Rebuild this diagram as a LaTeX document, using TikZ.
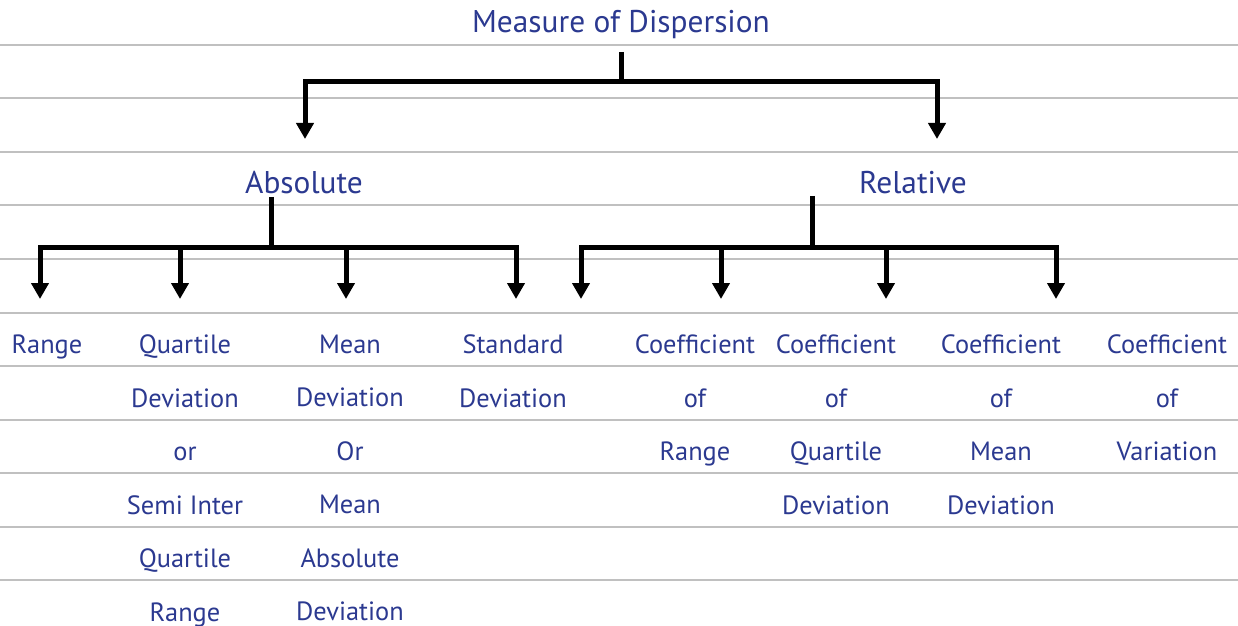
\documentclass[tikz,border=0pt]{standalone}
\usepackage{fontspec}
\setmainfont{PT Sans}
\usetikzlibrary{arrows.meta,positioning}
\definecolor{InkBlue}{RGB}{43,57,144}
\definecolor{RuleGray}{RGB}{192,192,192}

\begin{document}
\begin{tikzpicture}[
    x=0.5pt, y=-0.5pt,
    head/.style={font=\fontsize{15.7}{18}\selectfont, text=InkBlue,
                 anchor=base, inner sep=0pt},
    leaf/.style={font=\fontsize{13.2}{26.75}\selectfont, text=InkBlue,
                 anchor=north, align=center, inner sep=0pt},
    fork/.style={line width=2.5pt, black},
    branch/.style={fork, -{Triangle[length=8pt,width=8.5pt]}},
    rule/.style={RuleGray, line width=1pt},
]
\useasboundingbox (0,0) rectangle (1238,626);

% ── Ruled background ──
\draw[rule] (0,45) -- (1238,45)   (0,98.5) -- (1238,98.5)
            (0,152) -- (1238,152) (0,205.5) -- (1238,205.5)
            (0,259) -- (1238,259) (0,312.5) -- (1238,312.5)
            (0,366) -- (1238,366) (0,419.5) -- (1238,419.5)
            (0,473) -- (1238,473) (0,526.5) -- (1238,526.5)
            (0,580) -- (1238,580);

% ── Root and the two kinds ──
\node[head] (disp) at (621,33) {Measure of Dispersion};
\node[head] (abs) at (304,193) {Absolute};
\node[head] (rel) at (913,193) {Relative};

% ── Absolute measures ──
\node[leaf] (range) at (47,334.5) {Range};
\node[leaf] (qd) at (185,334.5) {Quartile\\Deviation\\or\\Semi Inter\\Quartile\\Range};
\node[leaf] (md) at (350,334.5) {Mean\\Deviation\\Or\\Mean\\Absolute\\Deviation};
\node[leaf] (sd) at (513,334.5) {Standard\\Deviation};

% ── Relative measures ──
\node[leaf] (cr) at (695,334.5) {Coefficient\\of\\Range};
\node[leaf] (cqd) at (836,334.5) {Coefficient\\of\\Quartile\\Deviation};
\node[leaf] (cmd) at (1001,334.5) {Coefficient\\of\\Mean\\Deviation};
\node[leaf] (cv) at (1167,334.5) {Coefficient\\of\\Variation};

% ── Arrow ends ──
\coordinate (absIn) at (305,139);
\coordinate (relIn) at (937,139);
\coordinate (rangeIn) at (40,299);
\coordinate (qdIn) at (180,299);
\coordinate (mdIn) at (346,299);
\coordinate (sdIn) at (516,299);
\coordinate (crIn) at (581,299);
\coordinate (cqdIn) at (721,299);
\coordinate (cmdIn) at (886,299);
\coordinate (cvIn) at (1056,299);

% ── Root fork ──
\draw[fork] ([yshift=-9.5pt]disp.base) -- ++(0,30) coordinate (dispfork);
\draw[branch] (dispfork) -| (absIn);
\draw[branch] (dispfork) -| (relIn);

% ── Absolute fork ──
\draw[fork] ([xshift=-16.5pt, yshift=-2pt]abs.base) -- ++(0,50) coordinate (absfork);
\draw[branch] (absfork) -| (rangeIn);
\draw[branch] (absfork) -| (qdIn);
\draw[branch] (absfork) -| (mdIn);
\draw[branch] (absfork) -| (sdIn);

% ── Relative fork ──
\draw[fork] ([xshift=-50.5pt, yshift=-1.5pt]rel.base) -- ++(0,51) coordinate (relfork);
\draw[branch] (relfork) -| (crIn);
\draw[branch] (relfork) -| (cqdIn);
\draw[branch] (relfork) -| (cmdIn);
\draw[branch] (relfork) -| (cvIn);

\end{tikzpicture}
\end{document}
